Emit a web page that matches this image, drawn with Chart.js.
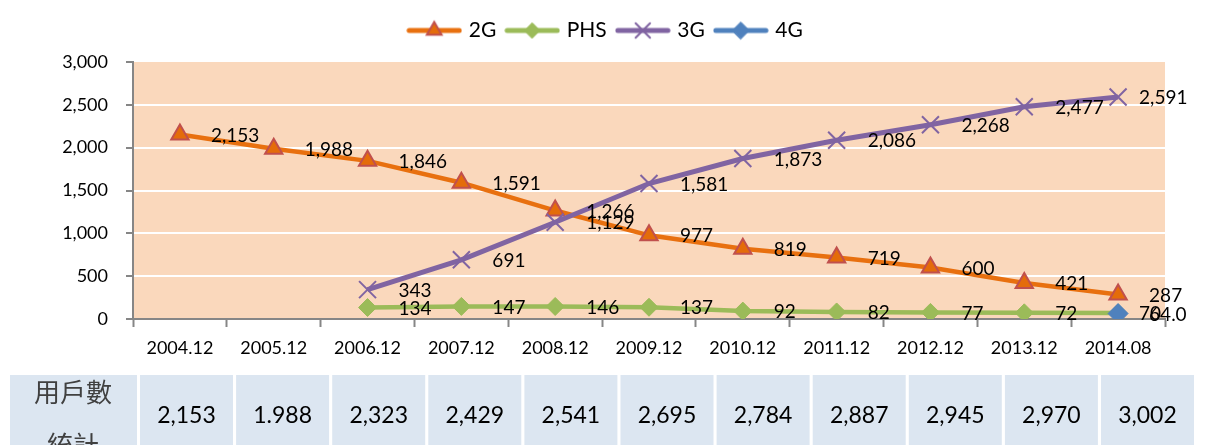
<!DOCTYPE html>
<html>
<head>
<meta charset="utf-8">
<script src="https://cdn.jsdelivr.net/npm/chart.js@4"></script>
<style>
  body { margin: 0; background: #fff; }
  canvas { display: block; }
</style>
</head>
<body>
<canvas id="myChart" width="1209" height="445"></canvas>
<script>
// chart data
const periods = ['2004.12', '2005.12', '2006.12', '2007.12', '2008.12', '2009.12',
  '2010.12', '2011.12', '2012.12', '2013.12', '2014.08'];
const users2G = [2153, 1988, 1846, 1591, 1266, 977, 819, 719, 600, 421, 287];
const usersPHS = [null, null, 134, 147, 146, 137, 92, 82, 77, 72, 70];
const users3G = [null, null, 343, 691, 1129, 1581, 1873, 2086, 2268, 2477, 2591];
const users4G = [null, null, null, null, null, null, null, null, null, null, 64.0];
const totalLabel = ['用戶數', '統計'];
const totals = ['2,153', '1.988', '2,323', '2,429', '2,541', '2,695',
  '2,784', '2,887', '2,945', '2,970', '3,002'];
const yTicks = { min: 0, max: 3000, step: 500 };

const LATIN = 'Lato, "Liberation Sans", sans-serif';
const CJK = '"Noto Sans CJK TC", sans-serif';

function legendImage(ds) {
  const c = document.createElement('canvas');
  c.width = 56;
  c.height = 24;
  const g = c.getContext('2d');
  g.strokeStyle = ds.borderColor;
  g.lineWidth = 5;
  g.lineCap = 'round';
  g.beginPath();
  g.moveTo(3, 12);
  g.lineTo(53, 12);
  g.stroke();
  g.fillStyle = ds.pointBackgroundColor;
  g.strokeStyle = ds.pointBorderColor;
  g.lineWidth = ds.pointBorderWidth;
  Chart.helpers.drawPoint(g, {
    pointStyle: ds.pointStyle,
    radius: ds.pointRadius * 0.85,
    borderWidth: ds.pointBorderWidth,
    rotation: 0
  }, 28, 12);
  return c;
}

// plot background + white page
const backgroundPlugin = {
  id: 'plotBackground',
  beforeDraw(chart) {
    const { ctx, chartArea: a } = chart;
    ctx.save();
    ctx.fillStyle = '#fff';
    ctx.fillRect(0, 0, chart.width, chart.height);
    ctx.fillStyle = '#FAD8BC';
    ctx.fillRect(a.left, a.top, a.right - a.left, a.bottom - a.top);
    ctx.restore();
  }
};

// move legend to where the original has it, and leave a gap under it
const legendPlugin = {
  id: 'legendSpot',
  beforeInit(chart) {
    const legend = chart.legend;
    if (!legend) return;
    const fit = legend.fit;
    legend.fit = function () {
      fit.call(legend);
      this.height += 11;
    };
  },
  afterLayout(chart) {
    const legend = chart.legend;
    legend.left += 24;
    legend.right += 24;
  }
};

// values written right of each point
const valueLabels = {
  id: 'valueLabels',
  afterDatasetsDraw(chart) {
    const ctx = chart.ctx;
    ctx.save();
    ctx.font = '19px ' + LATIN;
    ctx.fillStyle = '#000';
    ctx.textAlign = 'left';
    ctx.textBaseline = 'middle';
    chart.data.datasets.forEach((ds, i) => {
      const meta = chart.getDatasetMeta(i);
      const digits = ds.labelDigits || 0;
      const last = ds.data.length - 1;
      meta.data.forEach((pt, j) => {
        const v = ds.data[j];
        if (v === null) return;
        const txt = v.toLocaleString('en-US', { minimumFractionDigits: digits, maximumFractionDigits: digits });
        const dx = 31 + (j === last ? (ds.lastLabelShift || 0) : 0);
        ctx.fillText(txt, pt.x + dx, pt.y + 1);
      });
    });
    ctx.restore();
  }
};

// the totals row under the chart
const tablePlugin = {
  id: 'totalsTable',
  afterDraw(chart) {
    const ctx = chart.ctx;
    const top = 375;
    const h = 80;
    ctx.save();
    ctx.fillStyle = '#DCE6F1';
    ctx.fillRect(10, top, 127, h);
    ctx.textAlign = 'center';
    ctx.textBaseline = 'middle';
    ctx.font = '26px ' + CJK;
    ctx.fillStyle = '#404040';
    ctx.fillText(totalLabel[0], 73, 392);
    ctx.fillText(totalLabel[1], 73, 445);
    ctx.font = '23px ' + LATIN;
    totals.forEach((t, i) => {
      const x = 140 + i * 96.1;
      ctx.fillStyle = '#DCE6F1';
      ctx.fillRect(x, top, 93, h);
      ctx.fillStyle = '#000';
      ctx.fillText(t, x + 46.5, 416);
    });
    ctx.restore();
  }
};

const datasets = [{
  label: '2G',
  data: users2G,
  borderColor: '#E8700F',
  borderWidth: 4.5,
  pointStyle: 'triangle',
  pointRadius: 10,
  pointBackgroundColor: '#E46C0A',
  pointBorderColor: '#C0504D',
  pointBorderWidth: 2,
  order: 4
}, {
  label: 'PHS',
  data: usersPHS,
  borderColor: '#9BBB59',
  borderWidth: 4.5,
  pointStyle: 'rectRot',
  pointRadius: 9,
  pointBackgroundColor: '#9BBB59',
  pointBorderColor: '#9BBB59',
  pointBorderWidth: 1,
  lastLabelShift: -10,
  order: 3
}, {
  label: '3G',
  data: users3G,
  borderColor: '#8064A2',
  borderWidth: 5,
  pointStyle: 'crossRot',
  pointRadius: 12,
  pointBackgroundColor: '#8064A2',
  pointBorderColor: '#8064A2',
  pointBorderWidth: 2,
  lastLabelShift: -10,
  order: 2
}, {
  label: '4G',
  data: users4G,
  borderColor: '#4F81BD',
  borderWidth: 4.5,
  pointStyle: 'rectRot',
  pointRadius: 10,
  pointBackgroundColor: '#4F81BD',
  pointBorderColor: '#4F81BD',
  pointBorderWidth: 1,
  labelDigits: 1,
  order: 1
}];
datasets.forEach(ds => {
  ds.pointHoverRadius = ds.pointRadius;
  ds.fill = false;
  ds.tension = 0;
});
const legendImgs = datasets.map(legendImage);

const ctx = document.getElementById('myChart').getContext('2d');
const myChart = new Chart(ctx, {
  type: 'line',
  data: { labels: periods, datasets: datasets },
  plugins: [backgroundPlugin, legendPlugin, valueLabels, tablePlugin],
  options: {
    responsive: false,
    animation: false,
    locale: 'en-US',
    layout: { padding: { top: 8, right: 44, bottom: 76, left: 0 } },
    plugins: {
      tooltip: { enabled: false },
      legend: {
        position: 'top',
        labels: {
          usePointStyle: true,
          pointStyleWidth: 48,
          boxHeight: 21,
          padding: 12,
          color: '#000',
          font: { size: 21, family: LATIN },
          generateLabels: chart => chart.data.datasets.map((ds, i) => ({
            text: ds.label,
            pointStyle: legendImgs[i],
            fillStyle: 'transparent',
            strokeStyle: 'transparent',
            lineWidth: 0,
            hidden: !chart.isDatasetVisible(i),
            datasetIndex: i,
            fontColor: '#000'
          }))
        }
      }
    },
    scales: {
      x: {
        offset: true,
        grid: {
          offset: true,
          drawOnChartArea: false,
          tickLength: 8,
          tickColor: '#868686',
          tickWidth: 2
        },
        border: { color: '#868686', width: 2 },
        ticks: {
          color: '#000',
          padding: 10,
          maxRotation: 0,
          font: { size: 18, family: LATIN }
        },
        afterFit: scale => { scale.height = 50; }
      },
      y: {
        min: yTicks.min,
        max: yTicks.max,
        grid: {
          color: c => (c.tick && c.tick.value > yTicks.min && c.tick.value < yTicks.max) ? '#fff' : 'rgba(0,0,0,0)',
          lineWidth: 2,
          tickLength: 7,
          tickColor: '#868686',
          tickWidth: 2
        },
        border: { color: '#868686', width: 2 },
        ticks: {
          stepSize: yTicks.step,
          color: '#000',
          padding: 18,
          font: { size: 18, family: LATIN }
        },
        afterFit: scale => { scale.width = 133; }
      }
    }
  }
});
</script>
</body>
</html>
